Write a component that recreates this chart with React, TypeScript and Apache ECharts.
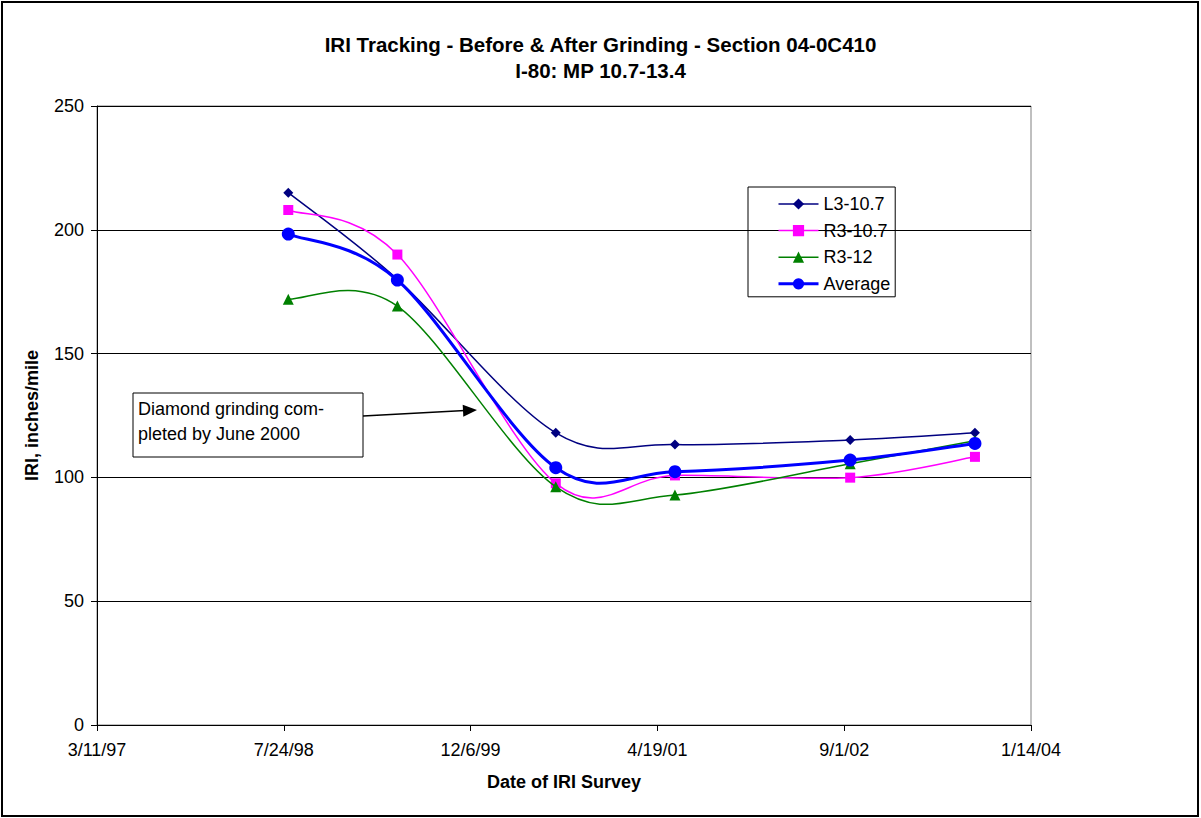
import React, { useEffect, useRef } from "react";
import * as echarts from "echarts";

const surveyDates = ["1998-08-05", "1999-05-24", "2000-07-21", "2001-06-05", "2002-09-17", "2003-08-17"];
const seriesNames = ["L3-10.7", "R3-10.7", "R3-12", "Average"];
const l3_107 = [215, 180, 118, 113.3, 115.1, 118];
const r3_107 = [208, 190, 97.6, 100.8, 99.9, 108.3];
const r3_12 = [172, 169.2, 96.2, 92.9, 105.5, 114.8];
const average = [198.3, 179.7, 103.9, 102.3, 107, 113.7];
const xTicks = { min: 35500, max: 38000, step: 500 };
const yTicks = { min: 0, max: 250, step: 50 };

const FONT = "Arial, 'Liberation Sans', Helvetica, sans-serif";
const EPOCH = Date.UTC(1899, 11, 30);

function toSerial(s: string): number {
  const [y, m, d] = s.split("-").map(Number);
  return Math.round((Date.UTC(y, m - 1, d) - EPOCH) / 86400000);
}
function serialLabel(v: number): string {
  const dt = new Date(EPOCH + v * 86400000);
  const yy = String(dt.getUTCFullYear() % 100).padStart(2, "0");
  return `${dt.getUTCMonth() + 1}/${dt.getUTCDate()}/${yy}`;
}
function pairs(vals: number[]) {
  return surveyDates.map((d, i) => [toSerial(d), vals[i]]);
}

const styles = [
  { name: seriesNames[0], vals: l3_107, color: "#000080", symbol: "diamond", size: 10, width: 1.5 },
  { name: seriesNames[1], vals: r3_107, color: "#FF00FF", symbol: "rect", size: 10, width: 1.5 },
  { name: seriesNames[2], vals: r3_12, color: "#008000", symbol: "triangle", size: 11, width: 1.5 },
  { name: seriesNames[3], vals: average, color: "#0000FF", symbol: "circle", size: 13, width: 3 },
];

export default function App() {
  const ref = useRef<HTMLDivElement>(null);
  useEffect(() => {
    document.body.style.margin = "0";
    const chart = echarts.init(ref.current!, null, { renderer: "svg" });

    const markerSeries = styles.map((s, i) => ({
      name: s.name,
      type: "line",
      data: pairs(s.vals),
      symbol: s.symbol,
      symbolSize: s.size,
      showAllSymbol: true,
      color: s.color,
      lineStyle: { color: s.color, width: s.width, opacity: 0 },
      itemStyle: { color: s.color },
      z: 3 + i * 2,
    }));

    // Excel-style smoothed curve (Catmull-Rom Bezier) through the data, via the axes' scales
    const curveSeries = styles.map((s, i) => {
      const data = pairs(s.vals);
      return {
        name: s.name,
        type: "custom",
        data,
        color: s.color,
        encode: { x: 0, y: 1 },
        z: 2 + i * 2,
        silent: true,
        renderItem: (params: any, api: any) => {
          const k = params.dataIndex;
          const n = data.length;
          if (k >= n - 1) return { type: "group", children: [] };
          const pts = data.map((p) => api.coord(p));
          const p0 = pts[Math.max(0, k - 1)];
          const p1 = pts[k];
          const p2 = pts[k + 1];
          const p3 = pts[Math.min(n - 1, k + 2)];
          return {
            type: "bezierCurve",
            shape: {
              x1: p1[0],
              y1: p1[1],
              cpx1: p1[0] + (p2[0] - p0[0]) / 6,
              cpy1: p1[1] + (p2[1] - p0[1]) / 6,
              cpx2: p2[0] - (p3[0] - p1[0]) / 6,
              cpy2: p2[1] - (p3[1] - p1[1]) / 6,
              x2: p2[0],
              y2: p2[1],
            },
            style: { stroke: s.color, lineWidth: s.width, fill: "none" },
          };
        },
      };
    });

    chart.setOption({
      animation: false,
      backgroundColor: "#ffffff",
      title: {
        text: "IRI Tracking - Before & After Grinding - Section 04-0C410\nI-80: MP 10.7-13.4",
        left: "center",
        top: 26,
        textStyle: { fontFamily: FONT, fontSize: 20.5, fontWeight: "bold", color: "#000", lineHeight: 26 },
      },
      legend: {
        orient: "vertical",
        left: 748,
        top: 187,
        data: styles.map((s) => ({
          name: s.name,
          lineStyle: { color: s.color, width: s.width, opacity: 1 },
        })),
        borderColor: "#000",
        borderWidth: 1,
        padding: [8, 5, 4, 29],
        itemWidth: 40,
        itemHeight: 14,
        itemGap: 8.6,
        textStyle: { fontFamily: FONT, fontSize: 18, color: "#000" },
      },
      grid: {
        left: 97,
        right: 170,
        top: 106,
        bottom: 93,
        show: true,
        borderColor: "#808080",
        borderWidth: 1,
        backgroundColor: "#fff",
      },
      xAxis: {
        type: "value",
        min: xTicks.min,
        max: xTicks.max,
        interval: xTicks.step,
        name: "Date of IRI Survey",
        nameLocation: "middle",
        nameGap: 48,
        nameTextStyle: { fontFamily: FONT, fontSize: 18, fontWeight: "bold", color: "#000" },
        axisLine: { show: true, lineStyle: { color: "#000", width: 1 } },
        axisTick: { show: true, length: 6, lineStyle: { color: "#000" } },
        axisLabel: { formatter: serialLabel, fontFamily: FONT, fontSize: 18, color: "#000", margin: 16 },
        splitLine: { show: false },
      },
      yAxis: {
        type: "value",
        min: yTicks.min,
        max: yTicks.max,
        interval: yTicks.step,
        name: "IRI, inches/mile",
        nameLocation: "middle",
        nameGap: 56,
        nameTextStyle: { fontFamily: FONT, fontSize: 18, fontWeight: "bold", color: "#000" },
        axisLine: { show: true, lineStyle: { color: "#000", width: 1 } },
        axisTick: { show: true, length: 6, lineStyle: { color: "#000" } },
        axisLabel: { fontFamily: FONT, fontSize: 18, color: "#000", margin: 13 },
        splitLine: { show: true, lineStyle: { color: "#000", width: 1 } },
      },
      series: [...markerSeries, ...curveSeries],
      graphic: [
        {
          type: "rect",
          shape: { x: 2, y: 2, width: 1196, height: 814 },
          style: { fill: "none", stroke: "#000", lineWidth: 2 },
          silent: true,
          z: 0,
        },
        {
          type: "rect",
          shape: { x: 133, y: 393, width: 230, height: 64 },
          style: { fill: "#fff", stroke: "#000", lineWidth: 1 },
          z: 10,
        },
        {
          type: "text",
          x: 138,
          y: 396,
          style: {
            text: "Diamond grinding com-\npleted by June 2000",
            fontFamily: FONT,
            fontSize: 18,
            lineHeight: 25,
            fill: "#000",
          },
          z: 11,
        },
        {
          type: "line",
          shape: { x1: 363, y1: 416, x2: 465, y2: 410.6 },
          style: { stroke: "#000", lineWidth: 1.5 },
          z: 10,
        },
        {
          type: "polygon",
          shape: { points: [[477, 410], [463.3, 416.7], [462.7, 404.7]] },
          style: { fill: "#000" },
          z: 10,
        },
      ],
    });
    return () => chart.dispose();
  }, []);
  return <div ref={ref} style={{ width: 1201, height: 818 }} />;
}
